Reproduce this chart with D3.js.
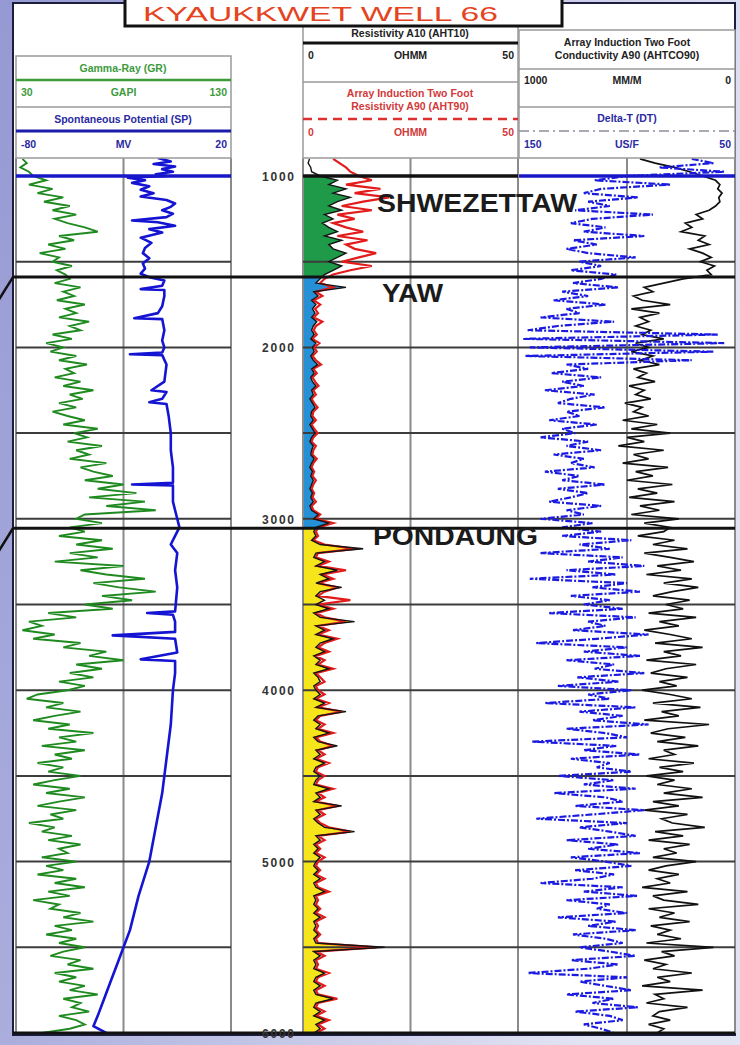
<!DOCTYPE html>
<html>
<head>
<meta charset="utf-8">
<title>Kyaukkwet Well 66</title>
<script src="https://cdn.jsdelivr.net/npm/d3@7"></script>
<style>
  html, body { margin: 0; padding: 0; background: #fff; }
  svg { display: block; }
  text { font-family: "Liberation Sans", Arial, sans-serif; }
</style>
</head>
<body>
<svg id="chart" width="740" height="1045"></svg>
<script>
// ---------------- Log data ----------------
// Regularly sampled curves: first sample at 900 ft, one sample every 25 ft.
const sampleTop = 900;
const sampleStep = 25;

// Gamma-Ray (GAPI)
const grValues = [
  33, 35, 32, 36,
  38, 44, 36, 47, 40, 52, 43, 55, 47, 58, 48, 54, 62, 68, 50, 57, 45, 53, 41, 50, 47, 56, 49, 53,
  55, 48, 60, 52, 57, 49, 62, 53, 58, 50, 64, 55, 60,
  47, 56, 44, 52, 46, 58, 50, 63, 53, 57,
  48, 60, 52, 66, 55, 61, 50, 58, 47, 54,
  62, 52, 68, 57, 63, 54, 70, 58, 64, 55,
  72, 60, 66, 75, 62, 80, 68, 86, 64, 90,
  72, 95, 62, 58, 70, 55,
  62, 50, 70, 58, 75, 55, 68, 48, 80, 60, 72, 90, 66, 78, 95, 70, 84, 62,
  75, 45, 58, 36, 42, 33, 48, 38, 60, 52, 72, 64, 80, 58, 70, 55, 66, 50, 62, 54,
  40, 35, 52, 44, 60, 48, 38, 55, 45, 66, 50, 58, 42, 62, 48, 56, 40, 52, 45, 60,
  48, 38, 55, 44, 62, 50, 40, 58, 46, 52, 36, 48, 42, 56, 45, 60, 50, 54, 42, 58,
  44, 52, 40, 58, 48, 62, 45, 55, 38, 50, 46, 60, 52, 66, 48, 56, 44, 58, 50, 62,
  52, 46, 60, 54, 66, 48, 58, 50, 62, 55, 68, 52, 60, 56, 64, 50, 58, 62, 55, 42
];

// Resistivity A10 (AHT10), ohm.m
const res10Values = [
  1.5, 1.2, 1.8, 2,
  4, 8, 6, 10, 7, 11, 8, 6, 9, 5, 7, 4.5, 6, 8, 5, 9, 6, 7, 10, 8, 6, 9, 7, 5,
  4, 3, 10, 2.5, 3.5, 2, 3, 2.2, 2.8, 2, 3.2, 2.4, 2,
  2.6, 1.8, 3, 2.2, 2.6, 1.8, 2.4, 3.4, 2, 2.6,
  1.8, 2.2, 3, 2, 2.4, 1.6, 2.2, 2.8, 2, 1.8,
  2.4, 1.6, 2.2, 2.8, 2, 1.6, 2.4, 2, 1.8, 2.6,
  2, 1.6, 2.2, 1.8, 2.4, 2, 1.6, 2.2, 1.8, 2.4,
  1.6, 2, 3.5, 2.5, 6, 3,
  2.5, 3, 2, 4, 14, 3, 2.5, 5, 3, 8, 4, 6, 3, 9, 4, 3, 5, 3,
  6, 2.5, 4, 12, 3, 5, 3, 7, 4, 3, 5, 2.5, 4, 3, 6, 2.5, 3.5, 4, 2.5, 3,
  4, 2.5, 5, 3, 10, 3.5, 2.5, 4, 3, 6, 2.5, 3.5, 8, 3, 4, 2.5, 5, 3, 2.5, 4,
  3, 2.5, 6, 3, 4, 2.5, 9, 3, 4, 2.5, 3.5, 5, 12, 3, 4, 2.5, 3.5, 2.5, 4, 3,
  2.5, 3.5, 2.5, 4, 2.5, 3, 5, 2.5, 3, 2.5, 3.5, 2.5, 4, 2.5, 3, 2.5, 3.5, 2.5, 3, 19,
  2.5, 4, 2.5, 3, 2.5, 5, 3, 2.5, 4, 2.5, 3, 7, 3, 2.5, 4, 2.5, 5, 3, 4, 2.5
];

// Array Induction Two Foot Resistivity A90 (AHT90), ohm.m
const res90Values = [
  7, 8.5, 10, 11,
  13, 16, 10, 18, 12, 20, 14, 9, 16, 8, 12, 7, 10, 14, 8, 15, 10, 12, 17, 13, 9, 16, 11, 7,
  5, 4, 7, 3, 4.5, 2.5, 4, 2.8, 3.5, 2.5, 4.5, 3, 2.5,
  3.2, 2.2, 3.8, 2.6, 3.2, 2.2, 3, 4.2, 2.4, 3.2, 2.2, 2.8, 3.6, 2.4, 3, 2, 2.6, 3.4, 2.4, 2.2,
  3, 2, 2.6, 3.4, 2.4, 2, 3, 2.4, 2.2, 3.2, 2.4, 2, 2.6, 2.2, 3, 2.4, 2, 2.6, 2.2, 3, 2, 2.4, 4, 3, 7, 3.5,
  3, 3.5, 2.4, 5, 12, 3.5, 3, 6, 3.5, 10, 4.5, 7, 3.5, 8, 5, 3.5, 11, 3.5,
  7, 3, 5, 10, 3.5, 6, 3.5, 8, 5, 3.5, 6, 3, 5, 3.5, 7, 3, 4, 5, 3, 3.5,
  5, 3, 6, 3.5, 9, 4, 3, 5, 3.5, 7, 3, 4, 7, 3.5, 5, 3, 6, 3.5, 3, 5,
  3.5, 3, 7, 3.5, 5, 3, 8, 3.5, 5, 3, 4, 6, 11, 3.5, 5, 3, 4, 3, 5, 3.5,
  3, 4, 3, 5, 3, 3.5, 6, 3, 3.5, 3, 4, 3, 5, 3, 3.5, 3, 4, 3, 3.5, 17,
  3, 5, 3, 3.5, 3, 6, 3.5, 3, 5, 3, 3.5, 8, 3.5, 3, 5, 3, 6, 3.5, 5, 3
];

// Array Induction Two Foot Conductivity A90 (AHTCO90), mmho/m
const condValues = [
  440, 370, 280, 210,
  150, 90, 70, 80, 60, 75, 70, 90, 120, 180, 150, 230, 200, 250, 140, 170, 120, 210, 150, 110, 160, 95, 130, 110,
  240, 330, 420, 380, 470,
  430, 300, 480, 350, 440, 400, 460, 390,
  430, 330, 460, 400, 480, 380, 440, 350, 470, 410,
  450, 370, 490, 420, 460, 390, 510, 430, 470, 400,
  520, 360, 480, 300, 500, 420, 540, 330, 470, 400,
  520, 310, 460, 380, 500, 290, 450, 360, 490, 280,
  440, 350, 480, 260, 420, 300,
  330, 450, 280, 380, 220, 420, 300, 190, 360, 250, 410, 200, 330, 170, 290, 380, 210, 320,
  240, 400, 180, 350, 260, 420, 300, 200, 370, 150, 330, 250, 410, 180, 320, 390, 220, 350, 270, 430,
  300, 200, 380, 160, 340, 260, 420, 120, 310, 390, 230, 360, 170, 330, 280, 400, 190, 350, 240, 410,
  280, 360, 200, 330, 150, 380, 260, 420, 220, 340, 290, 140, 370, 240, 400, 210, 330, 270, 380, 180,
  320, 400, 260, 360, 300, 430, 220, 380, 330, 170, 400, 280, 350, 210, 390, 300, 360, 250, 410, 100,
  340, 280, 420, 320, 380, 200, 360, 300, 430, 150, 370, 330, 410, 220, 350, 380, 300, 400, 330, 360
];

// Delta-T (DT), us/ft
const dtValues = [
  70, 60, 85, 55, 100,
  115, 80, 112, 120, 95, 118, 108, 124, 88, 116, 126, 110, 120, 92, 125, 114, 128, 118, 96, 122, 112, 126, 105,
  112, 125, 104, 130, 118, 134, 110, 128, 122, 140, 106, 132, 146,
  58, 148, 55, 145, 60, 147, 70, 128, 118, 135,
  112, 130, 120, 138, 115, 126, 132, 110, 128, 122,
  136, 114, 130, 124, 140, 118, 128, 112, 134, 120,
  126, 115, 138, 122, 130, 110, 132, 118, 126, 136,
  112, 128, 120, 140, 116, 130,
  112, 130, 98, 122, 108, 140, 102, 118, 92, 128, 105, 145, 100, 116, 94, 126, 108, 120,
  102, 136, 96, 118, 110, 125, 90, 114, 142, 100, 120, 94, 128, 106, 115, 92, 123, 104, 132, 98,
  118, 108, 138, 96, 122, 102, 116, 90, 128, 110, 100, 144, 105, 120, 94, 126, 108, 114, 98, 132,
  106, 120, 96, 134, 110, 102, 124, 92, 116, 142, 100, 122, 108, 96, 128, 104, 118, 94, 126, 110,
  98, 124, 106, 116, 140, 102, 120, 95, 128, 108, 114, 100, 132, 105, 118, 96, 125, 110, 102, 122,
  108, 96, 126, 104, 118, 146, 100, 122, 110, 98, 128, 106, 116, 95, 124, 108, 102, 120, 112, 106
];

// Spontaneous Potential (mV), picked at irregular depths (ft)
const spDepths = [
  895, 915, 930, 945, 960, 975, 990, 1000,
  1010, 1025, 1040, 1060, 1080, 1100, 1120, 1140, 1160, 1180, 1200, 1220, 1240, 1260, 1270, 1290, 1310, 1330,
  1360, 1390, 1420, 1450, 1480, 1510, 1540, 1570, 1590,
  1610, 1640, 1660, 1665, 1700, 1760, 1800, 1830, 1835, 1900, 1960, 2000, 2030, 2040, 2045, 2100, 2200,
  2250, 2260, 2300, 2320, 2330, 2400, 2500, 2600, 2700, 2790, 2800, 2805, 2900, 2950, 3000, 3050,
  3100, 3150, 3200, 3300, 3400, 3540, 3550, 3560, 3600, 3660, 3680, 3700, 3780, 3820, 3830, 3900,
  4000, 4200, 4400, 4600, 4800, 5000, 5200, 5400, 5500, 5600, 5700, 5800, 5900, 5960, 6000
];
const spValues = [
  -14, -8, -16, -6, -12, -7, -15, -10,
  -28, -20, -26, -18, -22, -16, -22, -10, -6, -8, -12, -7, -10, -26, -14, -6, -18, -12,
  -22, -17, -20, -21, -18, -21, -20, -22, -18,
  -11, -12, -22, -11, -11, -12, -14, -25, -12, -11, -12, -11, -12, -27, -12, -10, -11,
  -17, -10, -12, -18, -10, -9, -8, -8, -7, -7, -26, -7, -7, -6, -5, -4,
  -6, -8, -5, -6, -5, -6, -19, -7, -6, -6, -35, -6, -5, -22, -6, -6,
  -7, -8, -10, -12, -15, -18, -23, -27, -30, -33, -36, -39, -42, -44, -38
];

// Depth ticks (ft) and formation tops
const depthTicks = [1000, 2000, 3000, 4000, 5000, 6000];
const gridDepths = [1500, 2000, 2500, 3000, 3500, 4000, 4500, 5000, 5500];
const formationNames = ["SHWEZETTAW", "YAW", "PONDAUNG"];
const formationTops = [1000, 1590, 3055];
const logBase = 6000;

// ---------------- Layout ----------------
const W = 740, H = 1045;
const svg = d3.select("#chart");
const defs = svg.append("defs");

const T1 = [16, 231], T2 = [303, 518], T3 = [519, 735];
const trackTop = 158, trackBottom = 1033;

const y = d3.scaleLinear().domain([895, logBase]).range([trackTop, trackBottom]);
const grX = d3.scaleLinear().domain([30, 130]).range(T1);
const spX = d3.scaleLinear().domain([-80, 20]).range(T1);
const resX = d3.scaleLinear().domain([0, 50]).range(T2);
const condX = d3.scaleLinear().domain([1000, 0]).range(T3);
const dtX = d3.scaleLinear().domain([150, 50]).range(T3);

const sampled = vals => vals.map((v, i) => ({ d: sampleTop + i * sampleStep, v }));

// Background
const bg = defs.append("linearGradient").attr("id", "bg")
  .attr("x1", 0).attr("y1", 0).attr("x2", 1).attr("y2", 0.3);
bg.append("stop").attr("offset", 0).attr("stop-color", "#9599d3");
bg.append("stop").attr("offset", 1).attr("stop-color", "#e2e3f3");
svg.append("rect").attr("width", W).attr("height", H).attr("fill", "url(#bg)");

svg.append("rect").attr("x", 13).attr("y", 3).attr("width", 722).attr("height", 1032)
  .attr("fill", "#fff").attr("stroke", "#1d1e3e").attr("stroke-width", 2);

// Clip paths
function clipRect(id, x0, x1, y0, y1) {
  defs.append("clipPath").attr("id", id).append("rect")
    .attr("x", x0).attr("y", y0).attr("width", x1 - x0).attr("height", y1 - y0);
  return `url(#${id})`;
}
const clip1 = clipRect("c1", T1[0], T1[1], trackTop, trackBottom);
const clip2 = clipRect("c2", T2[0], T2[1], trackTop, trackBottom);
const clip3 = clipRect("c3", T3[0], T3[1], trackTop, trackBottom);

// ---------------- Lithology fill in the resistivity track ----------------
const zoneColors = ["#1f9a48", "#2590d6", "#f6e51b"];
const zoneBottoms = [formationTops[1], formationTops[2], logBase];
const fillArea = d3.area()
  .x0(T2[0])
  .x1(p => resX(p.v))
  .y(p => y(p.d));
const res10Data = sampled(res10Values);
formationTops.forEach((t, i) => {
  const cp = clipRect("z" + i, T2[0], T2[1], y(t), y(zoneBottoms[i]));
  svg.append("path").datum(res10Data)
    .attr("d", fillArea).attr("fill", zoneColors[i]).attr("clip-path", cp);
});

// ---------------- Grid ----------------
const grid = svg.append("g");
[T1, T2, T3].forEach(t => {
  grid.append("line").attr("x1", (t[0] + t[1]) / 2).attr("x2", (t[0] + t[1]) / 2)
    .attr("y1", trackTop).attr("y2", trackBottom).attr("stroke", "#8a8a8a").attr("stroke-width", 2);
});
[T1[0], T1[1], T2[0], T2[1], T3[1]].forEach(x => {
  grid.append("line").attr("x1", x).attr("x2", x).attr("y1", trackTop).attr("y2", trackBottom)
    .attr("stroke", "#8a8a8a").attr("stroke-width", 2);
});
gridDepths.forEach(d => {
  [[T1[0], T1[1]], [T2[0], T3[1]]].forEach(([a, b]) => {
    grid.append("line").attr("x1", a).attr("x2", b).attr("y1", y(d)).attr("y2", y(d))
      .attr("stroke", "#3c3c3c").attr("stroke-width", 2);
  });
});

// ---------------- Curves ----------------
const lineOf = xs => d3.line().x(p => xs(p.v)).y(p => y(p.d));

svg.append("path").datum(sampled(grValues)).attr("d", lineOf(grX))
  .attr("fill", "none").attr("stroke", "#1f8a1f").attr("stroke-width", 1.9)
  .attr("clip-path", clip1);

const spData = spDepths.map((d, i) => ({ d, v: spValues[i] }));
svg.append("path").datum(spData).attr("d", lineOf(spX))
  .attr("fill", "none").attr("stroke", "#1414d2").attr("stroke-width", 2.6)
  .attr("stroke-linejoin", "round").attr("clip-path", clip1);

svg.append("path").datum(sampled(res90Values)).attr("d", lineOf(resX))
  .attr("fill", "none").attr("stroke", "#e21c1c").attr("stroke-width", 2.2)
  .attr("clip-path", clip2);
svg.append("path").datum(res10Data).attr("d", lineOf(resX))
  .attr("fill", "none").attr("stroke", "#141414").attr("stroke-width", 1.4)
  .attr("clip-path", clip2);

svg.append("path").datum(sampled(condValues)).attr("d", lineOf(condX))
  .attr("fill", "none").attr("stroke", "#111").attr("stroke-width", 1.7)
  .attr("clip-path", clip3);
svg.append("path").datum(sampled(dtValues)).attr("d", lineOf(dtX))
  .attr("fill", "none").attr("stroke", "#1a1ae0").attr("stroke-width", 2.2)
  .attr("stroke-dasharray", "7,2,2,2").attr("clip-path", clip3);

// ---------------- Formation tops ----------------
const topLine = (x1, x2, yy, color, w) => svg.append("line")
  .attr("x1", x1).attr("x2", x2).attr("y1", yy).attr("y2", yy)
  .attr("stroke", color).attr("stroke-width", w);

// Shallowest top: drawn in curve colours across the log tracks
topLine(T1[0], T1[1], y(formationTops[0]), "#1818c8", 3.5);
topLine(T2[0], T2[1], y(formationTops[0]), "#111", 3.5);
topLine(T3[0], T3[1], y(formationTops[0]), "#1818c8", 3.5);
// Deeper tops run across the whole panel and out to the left margin
formationTops.slice(1).forEach(t => {
  topLine(13, T3[1], y(t), "#111", 3);
  svg.append("line").attr("x1", 13).attr("y1", y(t)).attr("x2", -2).attr("y2", y(t) + 24)
    .attr("stroke", "#111").attr("stroke-width", 2.5);
});
topLine(13, T3[1], y(logBase), "#111", 3);

const labelStyle = [
  { dx: 377, dy: 36, size: 25, len: 200 },
  { dx: 382, dy: 25, size: 26, len: 61 },
  { dx: 373, dy: 17, size: 25, len: 165 }
];
formationNames.forEach((n, i) => {
  const s = labelStyle[i];
  svg.append("text").attr("x", s.dx).attr("y", y(formationTops[i]) + s.dy)
    .attr("font-size", s.size).attr("font-weight", "bold").attr("fill", "#1b1b1b")
    .attr("textLength", s.len).attr("lengthAdjust", "spacingAndGlyphs").text(n);
});

// ---------------- Depth track ----------------
depthTicks.forEach(d => {
  svg.append("text").attr("x", 262).attr("y", y(d) + 5)
    .attr("font-size", 12).attr("font-weight", "bold").attr("fill", "#333")
    .attr("textLength", 32).attr("lengthAdjust", "spacing").text(d);
});

// ---------------- Headers ----------------
const hdr = svg.append("g");
function box(x0, x1, y0, y1) {
  hdr.append("rect").attr("x", x0).attr("y", y0).attr("width", x1 - x0).attr("height", y1 - y0)
    .attr("fill", "#fff").attr("stroke", "#9a9a9a").attr("stroke-width", 1.5);
}
function hline(x0, x1, yy, color, w, dash) {
  const l = hdr.append("line").attr("x1", x0).attr("x2", x1).attr("y1", yy).attr("y2", yy)
    .attr("stroke", color).attr("stroke-width", w);
  if (dash) l.attr("stroke-dasharray", dash);
}
function label(x, yy, txt, color, anchor) {
  hdr.append("text").attr("x", x).attr("y", yy).attr("text-anchor", anchor || "middle")
    .attr("font-size", 10.5).attr("font-weight", "bold").attr("fill", color).text(txt);
}
function scaleRow(t, yy, left, unit, right, color) {
  label(t[0] + 5, yy, left, color, "start");
  label((t[0] + t[1]) / 2, yy, unit, color);
  label(t[1] - 4, yy, right, color, "end");
}

const green = "#3d9a3d", navy = "#2a2aa2", red = "#d23a3a";

// Track 1: GR / SP
box(T1[0], T1[1], 56, trackTop);
label(123, 72, "Gamma-Ray (GR)", green);
hline(T1[0], T1[1], 80, green, 2.5);
scaleRow(T1, 96, "30", "GAPI", "130", green);
hline(T1[0], T1[1], 107, "#9a9a9a", 1.5);
label(123, 123, "Spontaneous Potential (SP)", navy);
hline(T1[0], T1[1], 131, "#1c1caa", 3);
scaleRow(T1, 148, "-80", "MV", "20", navy);

// Track 2: resistivity
box(T2[0], T2[1], 24, trackTop);
label(410, 37, "Resistivity A10 (AHT10)", "#222");
hline(T2[0], T2[1], 43, "#111", 3);
scaleRow(T2, 59, "0", "OHMM", "50", "#222");
hline(T2[0], T2[1], 82, "#9a9a9a", 1.5);
label(410, 97, "Array Induction Two Foot", red);
label(410, 110, "Resistivity A90 (AHT90)", red);
hline(T2[0], T2[1], 119, "#dd3030", 2.5, "9,6");
scaleRow(T2, 136, "0", "OHMM", "50", red);

// Track 3: conductivity / DT
box(T3[0], T3[1], 30, trackTop);
label(627, 46, "Array Induction Two Foot", "#222");
label(627, 59, "Conductivity A90 (AHTCO90)", "#222");
hline(T3[0], T3[1], 69, "#9a9a9a", 1.5);
scaleRow(T3, 84, "1000", "MM/M", "0", "#222");
hline(T3[0], T3[1], 107, "#9a9a9a", 1.5);
label(627, 122, "Delta-T (DT)", navy);
hline(T3[0], T3[1], 131, "#8d8d9a", 1.5, "10,4,2,4");
scaleRow(T3, 148, "150", "US/F", "50", navy);

// ---------------- Title ----------------
svg.append("rect").attr("x", 125).attr("y", -6).attr("width", 437).attr("height", 32)
  .attr("fill", "#fff").attr("stroke", "#111").attr("stroke-width", 3);
svg.append("text").attr("x", 143).attr("y", 21)
  .attr("font-family", "Lato, 'Open Sans', sans-serif").attr("font-size", 21)
  .attr("fill", "#e4441e").attr("textLength", 355).attr("lengthAdjust", "spacingAndGlyphs")
  .text("KYAUKKWET WELL 66");
</script>
</body>
</html>
